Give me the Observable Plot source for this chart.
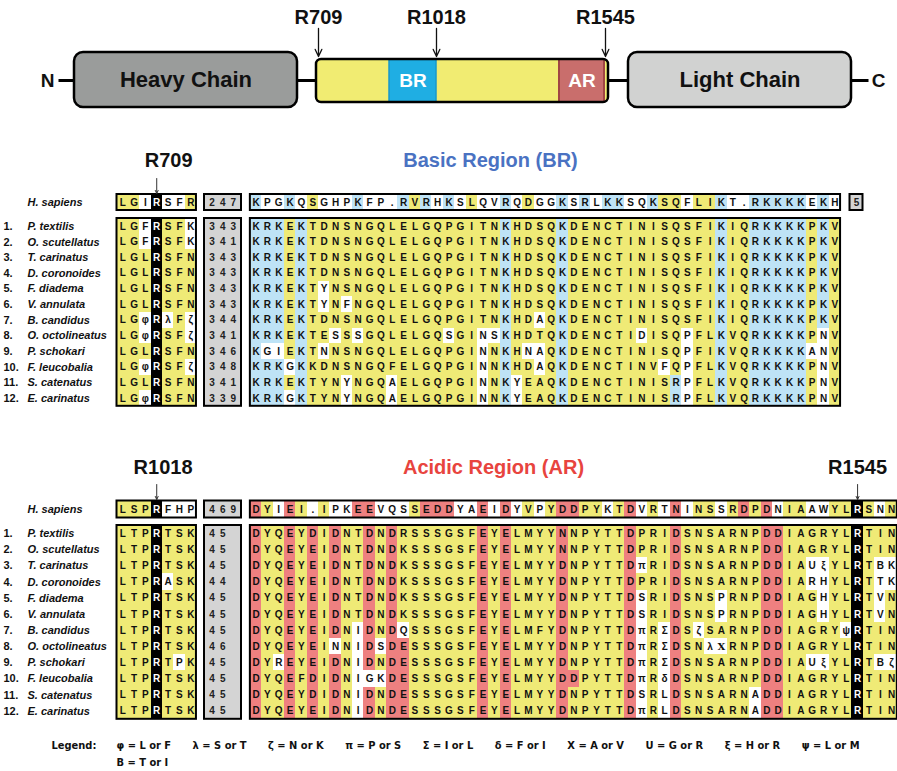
<!DOCTYPE html>
<html><head><meta charset="utf-8">
<script src="https://cdn.jsdelivr.net/npm/d3@7"></script>
<script src="https://cdn.jsdelivr.net/npm/@observablehq/plot@0.6"></script>
<style>html,body{margin:0;padding:0;background:#fff;}#chart svg{display:block;}</style>
</head><body><div id="chart"></div>
<script>
// ================= DATA =================
const speciesNumbers = ["1.","2.","3.","4.","5.","6.","7.","8.","9.","10.","11.","12."];
const speciesNames = ["P. textilis","O. scutellatus","T. carinatus","D. coronoides","F. diadema","V. annulata","B. candidus","O. octolineatus","P. schokari","F. leucobalia","S. catenatus","E. carinatus"];
const humanName = "H. sapiens";

const chainNames = ["Heavy Chain", "Light Chain"];
const regionNames = ["BR", "AR"];
const terminiNames = ["N", "C"];
const cleavageSites = ["R709", "R1018", "R1545"];

// classes: y = conserved, b = basic, a = acidic, w = variant, k = cleavage Arg
// ---- Basic region ----
const brSite = "R709";
const brTitle = "Basic Region (BR)";
const brHumanLeft = "LGIRSFR";
const brHumanLeftCls = "yywkwwy";
const brHumanCount = "247";
const brHumanSeq = "KPGKQSGHPK FP.RVRHKSL QVRQDGGKSR LKKSQKSQFL IKT.RKKKKE KH";
const brHumanCls = "bwwbwywwwb wwwbybwbwy wwbwywwbwb wbbwwbyywy ybwwbbbbbw bw";
const brHumanTail = "5";
const brLeft = ["LGFRSFK","LGFRSFK","LGLRSFN","LGLRSFN","LGLRSFN","LGLRSFN","LGφRλFζ","LGφRSFζ","LGLRSFN","LGφRSFζ","LGLRSFN","LGφRSFN"];
const brLeftCls = ["yywkyyw","yywkyyw","yyykyyy","yyykyyy","yyykyyy","yyykyyy","yywkwyw","yywkyyw","yyykyyy","yywkyyw","yyykyyy","yywkyyy"];
const brCounts = ["343","341","343","343","343","343","344","341","346","348","341","339"];
const brSeq = [
  "KRKEKTDNSN GQLELGQPGI TNKHDSQKDE NCTINISQSF IKIQRKKKKP KV",
  "KRKEKTDNSN GQLELGQPGI TNKHDSQKDE NCTINISQSF IKIQRKKKKP KV",
  "KRKEKTDNSN GQLELGQPGI TNKHDSQKDE NCTINISQSF IKIQRKKKKP KV",
  "KRKEKTDNSN GQLELGQPGI TNKHDSQKDE NCTINISQSF IKIQRKKKKP KV",
  "KRKEKTYNSN GQLELGQPGI TNKHDSQKDE NCTINISQSF IKIQRKKKKP KV",
  "KRKEKTYNFN GQLELGQPGI TNKHDSQKDE NCTINISQSF IKIQRKKKKP KV",
  "KRKEKTDNSN GQLELGQPGI TNKHDAQKDE NCTINISQSF IKIQRKKKKP KV",
  "KRKEKTESSS GQLELGQSGI NSKHDTQKDE NCTIDISQPF LKVQRKKKKP NV",
  "KGIEKTNNSN GQLELGQPGI NNKHNAQKDE NCTINISQPF IKVQRKKKKA NV",
  "KRKGKKDNSN GQFELGQPGI NNKHDAQKDE NCTINVFQPF LKVQRKKKKP NV",
  "KRKEKTYNYN GQAELGQPGI NNKYEAQKDE NCTINISRPF LKVQRKKKKP NV",
  "KRKGKTYNYN GQAELGQPGI NNKYEAQKDE NCTINISRPF LKVQRKKKKP NV"
];
const brCls = [
  "bbbybyyyyy yyyyyyyyyy yybyyyybyy yyyyyyyyyy ybyybbbbby by",
  "bbbybyyyyy yyyyyyyyyy yybyyyybyy yyyyyyyyyy ybyybbbbby by",
  "bbbybyyyyy yyyyyyyyyy yybyyyybyy yyyyyyyyyy ybyybbbbby by",
  "bbbybyyyyy yyyyyyyyyy yybyyyybyy yyyyyyyyyy ybyybbbbby by",
  "bbbybywyyy yyyyyyyyyy yybyyyybyy yyyyyyyyyy ybyybbbbby by",
  "bbbybywywy yyyyyyyyyy yybyyyybyy yyyyyyyyyy ybyybbbbby by",
  "bbbybyyyyy yyyyyyyyyy yybyywybyy yyyyyyyyyy ybyybbbbby by",
  "bbbybyywyw yyyyyyywyy wwbyyyybyy yyyywyyywy ybyybbbbby wy",
  "bwwybywyyy yyyyyyyyyy wybywwybyy yyyyyyyywy ybyybbbbbw wy",
  "bbbwbyyyyy yyyyyyyyyy wybyywybyy yyyyyywywy ybyybbbbby wy",
  "bbbybyyywy yywyyyyyyy wybwyyybyy yyyyyyybwy ybyybbbbby wy",
  "bbbwbyyywy yywyyyyyyy wybwyyybyy yyyyyyybwy ybyybbbbby wy"
];

// ---- Acidic region ----
const arSite = "R1018";
const arSite2 = "R1545";
const arTitle = "Acidic Region (AR)";
const arHumanLeft = "LSPRFHP";
const arHumanLeftCls = "yyykwww";
const arHumanCount = "469";
const arHumanSeq = "DYIEI.IPKE EVQSSEDDYA EIDYVPYDDP YKTDVRTNIN SSRDPDNIAA WYLRSNN";
const arHumanCls = "aywaywywwa awwwyaaaww awawywyaay ywyawywawy ywyayawyyw wyykywy";
const arLeft = ["LTPRTSK","LTPRTSK","LTPRTSK","LTPRASK","LTPRTSK","LTPRTSK","LTPRTSK","LTPRTSK","LTPRTPK","LTPRTSK","LTPRTSK","LTPRTSK"];
const arLeftCls = ["yyykyyy","yyykyyy","yyykyyy","yyykwyy","yyykyyy","yyykyyy","yyykyyy","yyykyyy","yyykywy","yyykyyy","yyykyyy","yyykyyy"];
const arCounts = ["45","45","45","44","45","45","45","46","45","45","45","45"];
const arSeq = [
  "DYQEYDIDNT DNDRSSSGSF EYELMYYNNP YTTDPRIDSN SARNPDDIAG RYLRTIN",
  "DYQEYEIDNT DNDKSSSGSF EYELMYYNNP YTTDPRIDSN SARNPDDIAG RYLRTIN",
  "DYQEYEIDNT DNDKSSSGSF EYELMYYDNP YTTDπRIDSN SARNPDDIAU ξYLRTBK",
  "DYQEYEIDNT DNDKSSSGSF EYELMYYDNP YTTDPRIDSN SARNPDDIAR HYLRTTK",
  "DYQEYEIDNT DNDKSSSGSF EYELMYYDNP YTTDSRIDSN SPRNPDDIAG HYLRTVN",
  "DYQEYEIDNT DNDKSSSGSF EYELMYYDNP YTTDSRIDSN SPRNPDDIAG HYLRTVN",
  "DYQEYEIDNI DNDQSSSGSF EYELMFYDNP YTTDπRΣDSζ SARNPDDIAG RYψRTIN",
  "DYQEYEINNI DSDESSSGSF EYELMYYDNP YTTDπRΣDSN λΧRNPDDIAG RYLRTIN",
  "DYREYEIDNI DNDESSSGSF EYELMYYDNP YTTDπRΣDSN SARNPDDIAU ξYLRTBζ",
  "DYQEFDIDNI GKDESSSGSF EYELMYYDDP YTTDπRδDSN SARNPDDIAG RYLRTIN",
  "DYQEYDIDNI DNDESSSGSF EYELMYYDNP YTTDSRLDSN SARNADDIAG RYLRTIN",
  "DYQEYEIDNI DNDESSSGSF EYELMYYDNP YTTDπRLDSN SARNADDIAG RYLRTIN"
];
const arCls = [
  "ayyayayayy ayayyyyyyy ayayyyyayy yyyayyyayy yyyyyaayyy yyykyyy",
  "ayyayayayy ayayyyyyyy ayayyyyayy yyyayyyayy yyyyyaayyy yyykyyy",
  "ayyayayayy ayayyyyyyy ayayyyyayy yyyawyyayy yyyyyaayyw wyykyww",
  "ayyayayayy ayayyyyyyy ayayyyyayy yyyayyyayy yyyyyaayyw wyykyww",
  "ayyayayayy ayayyyyyyy ayayyyyayy yyyawyyayy ywyyyaayyy wyykywy",
  "ayyayayayy ayayyyyyyy ayayyyyayy yyyawyyayy ywyyyaayyy wyykywy",
  "ayyayayayw ayawyyyyyy ayayyyyayy yyyawywayw yyyyyaayyy yywkyyy",
  "ayyayaywyw awaayyyyyy ayayyyyayy yyyawywayy wwyyyaayyy yyykyyy",
  "aywayayayw ayaayyyyyy ayayyyyayy yyyawywayy yyyyyaayyw wyykyww",
  "ayyayayayw wwaayyyyyy ayayyyyaay yyyawywayy yyyyyaayyy yyykyyy",
  "ayyayayayw ayaayyyyyy ayayyyyayy yyyawywayy yyyywaayyy yyykyyy",
  "ayyayayayw ayaayyyyyy ayayyyyayy yyyawywayy yyyywaayyy yyykyyy"
];

const legendTitle = "Legend:";
const legendRows = [
  ["φ = L or F","λ = S or T","ζ = N or K","π = P or S","Σ = I or L","δ = F or I","Χ = A or V","U = G or R","ξ = H or R","ψ = L or M"],
  ["B = T or I"]
];

// ================= LAYOUT / STYLE =================
const W = 897, H = 771;
const FONT = "'Liberation Sans', Arial, Helvetica, sans-serif";
const NARROW = "'Liberation Sans Narrow', 'Arial Narrow', 'DejaVu Sans Condensed', sans-serif";
const L = {
  X0: 116.5, CW: 11.35, MAIN0: 11.75, NUMX1: 204, NUMX2: 241, DIGIT0: 211.5, DIGITDX: 10.7,
  tail: [849.5, 862.5], numX: 3, nameX: 27, siteLabelRight: 192,
  br: {titleY: 160, titleX: 490, titleColor: "#4a72c2", arrowY: [178, 193], humanY: 202, humanH: 16, top: 218, rowH: 15.65},
  ar: {titleY: 467, titleX: 493, titleColor: "#e8443e", arrowY: [484, 499], humanY: 509, humanH: 17, top: 525, rowH: 16.15}
};
const DG = {
  lineY: 80, lineX: [58, 868], chains: [[74, 297], [628, 851]], chainY: [52, 107],
  bdom: [316, 608], bdomY: [59, 102], regions: [[389, 436], [559, 604]],
  termX: [47, 878], siteX: [318, 436, 605], siteLabelY: 17, siteArrowY: [28, 56]
};
const classColors = {y: "#efea76", b: "#bee3f6", a: "#ee8080", w: "#ffffff", k: "#000000", g: "#d4d4d4"};

const colX = c => L.X0 + c * L.CW;
const clean = s => Array.from(s.replace(/ /g, ""));

// ================= BUILD =================
const cells = [], letters = [], frames = [], digits = [], names = [], titles = [], smallArrows = [];
const box = (x1, x2, y1, y2) => ({x1, x2, y1, y2});

function addRow(seq, cls, c0, y1, h) {
  const ch = clean(seq), cl = clean(cls);
  ch.forEach((c, i) => {
    cells.push({...box(colX(c0 + i), colX(c0 + i + 1), y1, y1 + h), cls: cl[i]});
    letters.push({x: colX(c0 + i + 0.5), y: y1 + h / 2, ch: c, cls: cl[i]});
  });
  return ch.length;
}
function addDigits(str, y) {
  Array.from(str).forEach((c, i) => digits.push({x: L.DIGIT0 + L.DIGITDX * i, y, ch: c}));
}
function build(sec, d) {
  const hy = sec.humanY, hh = sec.humanH, hy1 = hy - hh / 2, hy2 = hy + hh / 2;
  addRow(d.humanLeft, d.humanLeftCls, 0, hy1, hh);
  frames.push(box(colX(0), colX(7), hy1, hy2));
  cells.push({...box(L.NUMX1, L.NUMX2, hy1, hy2), cls: "g"});
  frames.push(box(L.NUMX1, L.NUMX2, hy1, hy2));
  addDigits(d.humanCount, hy);
  const n = addRow(d.humanSeq, d.humanCls, L.MAIN0, hy1, hh);
  frames.push(box(colX(L.MAIN0), colX(L.MAIN0 + n), hy1, hy2));
  if (d.humanTail) {
    cells.push({...box(L.tail[0], L.tail[1], hy1, hy2), cls: "g"});
    frames.push(box(L.tail[0], L.tail[1], hy1, hy2));
    digits.push({x: (L.tail[0] + L.tail[1]) / 2, y: hy, ch: d.humanTail});
  }
  names.push({y: hy, num: "", name: humanName});
  const kL = clean(d.humanLeftCls).indexOf("k");
  smallArrows.push({x: colX(kL + 0.5), y1: sec.arrowY[0], y2: sec.arrowY[1]});
  titles.push({x: L.siteLabelRight, y: sec.titleY, text: d.site, color: "#111", anchor: "end"});
  titles.push({x: sec.titleX, y: sec.titleY, text: d.title, color: sec.titleColor, anchor: "middle"});
  const kM = clean(d.humanCls).indexOf("k");
  if (kM >= 0 && d.site2) {
    const xm = colX(L.MAIN0 + kM + 0.5);
    smallArrows.push({x: xm, y1: sec.arrowY[0], y2: sec.arrowY[1]});
    titles.push({x: xm, y: sec.titleY, text: d.site2, color: "#111", anchor: "middle"});
  }
  const top = sec.top, rh = sec.rowH;
  let len = 0;
  d.left.forEach((s, i) => {
    const y1 = top + rh * i;
    addRow(s, d.leftCls[i], 0, y1, rh);
    len = addRow(d.seq[i], d.cls[i], L.MAIN0, y1, rh);
    addDigits(d.counts[i], y1 + rh / 2);
    names.push({y: y1 + rh / 2, num: speciesNumbers[i], name: speciesNames[i]});
  });
  const bottom = top + rh * d.left.length;
  frames.push(box(colX(0), colX(7), top, bottom));
  cells.push({...box(L.NUMX1, L.NUMX2, top, bottom), cls: "g"});
  frames.push(box(L.NUMX1, L.NUMX2, top, bottom));
  frames.push(box(colX(L.MAIN0), colX(L.MAIN0 + len), top, bottom));
}
build(L.br, {site: brSite, title: brTitle, humanLeft: brHumanLeft, humanLeftCls: brHumanLeftCls, humanCount: brHumanCount,
  humanSeq: brHumanSeq, humanCls: brHumanCls, humanTail: brHumanTail, left: brLeft, leftCls: brLeftCls, counts: brCounts, seq: brSeq, cls: brCls});
build(L.ar, {site: arSite, site2: arSite2, title: arTitle, humanLeft: arHumanLeft, humanLeftCls: arHumanLeftCls, humanCount: arHumanCount,
  humanSeq: arHumanSeq, humanCls: arHumanCls, left: arLeft, leftCls: arLeftCls, counts: arCounts, seq: arSeq, cls: arCls});

// diagram pieces
const chains = chainNames.map((name, i) => ({name, ...box(DG.chains[i][0], DG.chains[i][1], DG.chainY[0], DG.chainY[1])}));
const regions = regionNames.map((name, i) => ({name, ...box(DG.regions[i][0], DG.regions[i][1], DG.bdomY[0], DG.bdomY[1])}));
const termini = terminiNames.map((name, i) => ({name, x: DG.termX[i], y: DG.lineY}));
const sites = cleavageSites.map((name, i) => ({name, x: DG.siteX[i]}));

// legend layout (justified first row)
const ctx = document.createElement("canvas").getContext("2d");
ctx.font = `bold 11px ${NARROW}`;
const legX0 = 116, legX1 = 859, legY = [745, 762];
const w0 = legendRows[0].map(t => ctx.measureText(t).width);
const gap = (legX1 - legX0 - d3.sum(w0)) / (legendRows[0].length - 1);
const legend = [];
legendRows.forEach((row, r) => {
  let x = legX0;
  row.forEach(t => { legend.push({x, y: legY[r], text: t}); x += ctx.measureText(t).width + gap; });
});

// ================= PLOT =================
const seqText = {x: "x", y: "y", text: "ch", fontSize: 10, fontWeight: "bold", fontFamily: FONT};
const chart = Plot.plot({
  width: W, height: H, margin: 0,
  x: {domain: [0, W], range: [0, W], axis: null},
  y: {domain: [0, H], range: [0, H], axis: null},
  color: {type: "ordinal", domain: Object.keys(classColors), range: Object.values(classColors)},
  style: {background: "#fff"},
  marks: [
    // ---- domain diagram ----
    Plot.link([DG], {x1: d => d.lineX[0], x2: d => d.lineX[1], y1: "lineY", y2: "lineY", stroke: "#000", strokeWidth: 3}),
    Plot.rect(chains.slice(0, 1), {x1: "x1", x2: "x2", y1: "y1", y2: "y2", fill: "#9a9c9b", stroke: "#000", strokeWidth: 2.5, rx: 9}),
    Plot.rect(chains.slice(1), {x1: "x1", x2: "x2", y1: "y1", y2: "y2", fill: "#d1d2d1", stroke: "#000", strokeWidth: 2.5, rx: 9}),
    Plot.rect([DG], {x1: d => d.bdom[0], x2: d => d.bdom[1], y1: d => d.bdomY[0], y2: d => d.bdomY[1], fill: "#f1ec72", rx: 5}),
    Plot.rect(regions.slice(0, 1), {x1: "x1", x2: "x2", y1: "y1", y2: "y2", fill: "#1faee3", stroke: "#1a98cc", strokeWidth: 1.5}),
    Plot.rect(regions.slice(1), {x1: "x1", x2: "x2", y1: "y1", y2: "y2", fill: "#c96e6c", stroke: "#a04644", strokeWidth: 2}),
    Plot.rect([DG], {x1: d => d.bdom[0], x2: d => d.bdom[1], y1: d => d.bdomY[0], y2: d => d.bdomY[1], fill: "none", stroke: "#000", strokeWidth: 2.5, rx: 5}),
    Plot.text(chains, {x: d => (d.x1 + d.x2) / 2, y: d => (d.y1 + d.y2) / 2, text: "name", fontSize: 22, fontWeight: "bold", fontFamily: FONT, fill: "#111"}),
    Plot.text(regions, {x: d => (d.x1 + d.x2) / 2, y: d => (d.y1 + d.y2) / 2, text: "name", fontSize: 19, fontWeight: "bold", fontFamily: FONT, fill: "#fff"}),
    Plot.text(termini, {x: "x", y: "y", text: "name", fontSize: 19, fontWeight: "bold", fontFamily: FONT, fill: "#111"}),
    Plot.text(sites, {x: "x", y: DG.siteLabelY, text: "name", fontSize: 20, fontWeight: "bold", fontFamily: FONT, fill: "#111"}),
    Plot.arrow(sites, {x1: "x", x2: "x", y1: () => DG.siteArrowY[0], y2: () => DG.siteArrowY[1], stroke: "#111", strokeWidth: 1.3, headLength: 9, headAngle: 50}),
    // ---- alignments ----
    Plot.rect(cells, {x1: "x1", x2: "x2", y1: "y1", y2: "y2", fill: "cls", inset: 0, shapeRendering: "crispEdges"}),
    Plot.rect(frames, {x1: "x1", x2: "x2", y1: "y1", y2: "y2", fill: "none", stroke: "#000", strokeWidth: 2, inset: 0}),
    Plot.text(letters.filter(d => d.cls !== "k" && d.ch !== "Χ"), {...seqText, fill: "#111"}),
    Plot.text(letters.filter(d => d.ch === "Χ"), {...seqText, fontFamily: "'DejaVu Serif', serif", fontSize: 10, fill: "#111"}),
    Plot.text(letters.filter(d => d.cls === "k"), {...seqText, fill: "#fff"}),
    Plot.text(digits, {x: "x", y: "y", text: "ch", fontSize: 10, fontWeight: "bold", fontFamily: FONT, fill: "#222"}),
    Plot.text(names, {x: L.numX, y: "y", text: "num", textAnchor: "start", fontSize: 11, fontWeight: "bold", fontFamily: FONT, fill: "#111"}),
    Plot.text(names, {x: L.nameX, y: "y", text: "name", textAnchor: "start", fontSize: 11, fontWeight: "bold", fontStyle: "italic", fontFamily: FONT, fill: "#111"}),
    Plot.arrow(smallArrows, {x1: "x", x2: "x", y1: "y1", y2: "y2", stroke: "#333", strokeWidth: 1, headLength: 5, headAngle: 50}),
    Plot.text(titles.filter(d => d.anchor === "end"), {x: "x", y: "y", text: "text", textAnchor: "end", fontSize: 20, fontWeight: "bold", fontFamily: FONT, fill: "#111"}),
    Plot.text(titles.filter(d => d.anchor === "middle" && d.color === "#111"), {x: "x", y: "y", text: "text", fontSize: 20, fontWeight: "bold", fontFamily: FONT, fill: "#111"}),
    Plot.text(titles.filter(d => d.color === L.br.titleColor), {x: "x", y: "y", text: "text", fontSize: 20, fontWeight: "bold", fontFamily: FONT, fill: L.br.titleColor}),
    Plot.text(titles.filter(d => d.color === L.ar.titleColor), {x: "x", y: "y", text: "text", fontSize: 20, fontWeight: "bold", fontFamily: FONT, fill: L.ar.titleColor}),
    // ---- legend ----
    Plot.text([legendTitle], {x: 51, y: legY[0], text: d => d, textAnchor: "start", fontSize: 11, fontWeight: "bold", fontFamily: NARROW, fill: "#111"}),
    Plot.text(legend, {x: "x", y: "y", text: "text", textAnchor: "start", fontSize: 11, fontWeight: "bold", fontFamily: NARROW, fill: "#111"})
  ]
});
document.getElementById("chart").append(chart);
</script>
</body></html>
